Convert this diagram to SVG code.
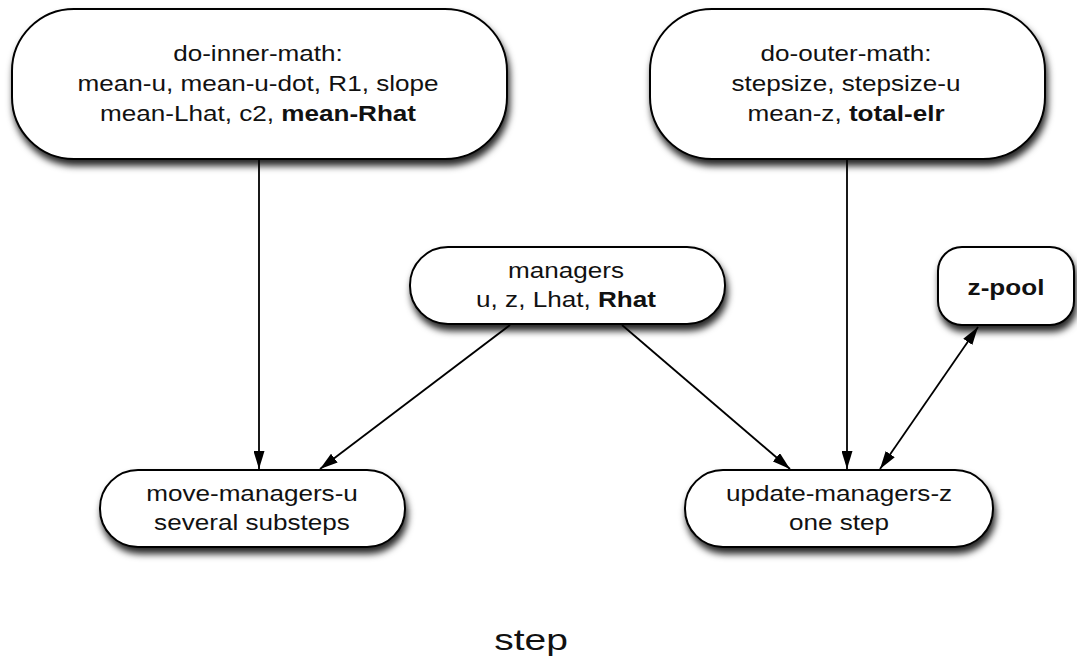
<svg xmlns="http://www.w3.org/2000/svg" width="1077" height="668" viewBox="0 0 1077 668">
<style>
.node{fill:#fff;stroke:#000;stroke-width:2;filter:url(#sh)}
.t{font-family:"Liberation Sans",Arial,sans-serif;font-size:22px;fill:#111;text-anchor:middle}
.b{font-weight:bold}
.edge{stroke:#000;stroke-width:1.8;fill:none;marker-end:url(#ah)}
</style>
<defs>
<filter id="sh" x="-10%" y="-20%" width="125%" height="160%">
<feDropShadow dx="2" dy="6" stdDeviation="3.5" flood-color="#000" flood-opacity="0.85"/>
</filter>
<marker id="ah" markerUnits="userSpaceOnUse" markerWidth="18" markerHeight="11" refX="18" refY="5.5" orient="auto-start-reverse">
<path d="M0,0 L18,5.5 L0,11 z" fill="#000"/>
</marker>
</defs>
<g id="connectors">
<line class="edge" x1="259" y1="160" x2="259" y2="469"/>
<line class="edge" x1="510" y1="325" x2="320" y2="469"/>
<line class="edge" x1="622" y1="325" x2="790" y2="469"/>
<line class="edge" x1="847" y1="160" x2="847" y2="469"/>
<line class="edge" x1="880" y1="469" x2="978" y2="327" style="marker-start:url(#ah)"/>
</g>
<g id="do-inner-math">
<rect class="node" x="12" y="9" width="495" height="150" rx="62" ry="62"/>
<g transform="translate(258,0) scale(1.16,1)">
<text class="t" x="0" y="61" style="font-size:22.5px">do-inner-math:</text>
<text class="t" x="0" y="91" style="font-size:22.5px">mean-u, mean-u-dot, R1, slope</text>
<text class="t" x="0" y="121" style="font-size:22.5px">mean-Lhat, c2, <tspan class="b">mean-Rhat</tspan></text>
</g>
</g>
<g id="do-outer-math">
<rect class="node" x="650" y="9" width="395" height="150" rx="62" ry="62"/>
<g transform="translate(846,0) scale(1.16,1)">
<text class="t" x="0" y="61" style="font-size:22.5px">do-outer-math:</text>
<text class="t" x="0" y="91" style="font-size:22.5px">stepsize, stepsize-u</text>
<text class="t" x="0" y="121" style="font-size:22.5px">mean-z, <tspan class="b">total-elr</tspan></text>
</g>
</g>
<g id="managers">
<rect class="node" x="410" y="247" width="315" height="77" rx="38" ry="38"/>
<g transform="translate(566,0) scale(1.16,1)">
<text class="t" x="0" y="278" style="font-size:22.5px">managers</text>
<text class="t" x="0" y="307" style="font-size:22.5px">u, z, Lhat, <tspan class="b">Rhat</tspan></text>
</g>
</g>
<g id="z-pool">
<rect class="node" x="938" y="247" width="136" height="78" rx="24" ry="24"/>
<g transform="translate(1006,0) scale(1.16,1)">
<text class="t b" x="0" y="295" style="font-size:22.5px">z-pool</text>
</g>
</g>
<g id="move-managers-u">
<rect class="node" x="100" y="470" width="305" height="77" rx="38" ry="38"/>
<g transform="translate(252,0) scale(1.16,1)">
<text class="t" x="0" y="501" style="font-size:22.5px">move-managers-u</text>
<text class="t" x="0" y="530" style="font-size:22.5px">several substeps</text>
</g>
</g>
<g id="update-managers-z">
<rect class="node" x="685" y="470" width="308" height="77" rx="38" ry="38"/>
<g transform="translate(839,0) scale(1.16,1)">
<text class="t" x="0" y="501" style="font-size:22.5px">update-managers-z</text>
<text class="t" x="0" y="530" style="font-size:22.5px">one step</text>
</g>
</g>
<g transform="translate(531,0) scale(1.3,1)">
<text class="t" x="0" y="650" style="font-size:30px">step</text>
</g>
</svg>
